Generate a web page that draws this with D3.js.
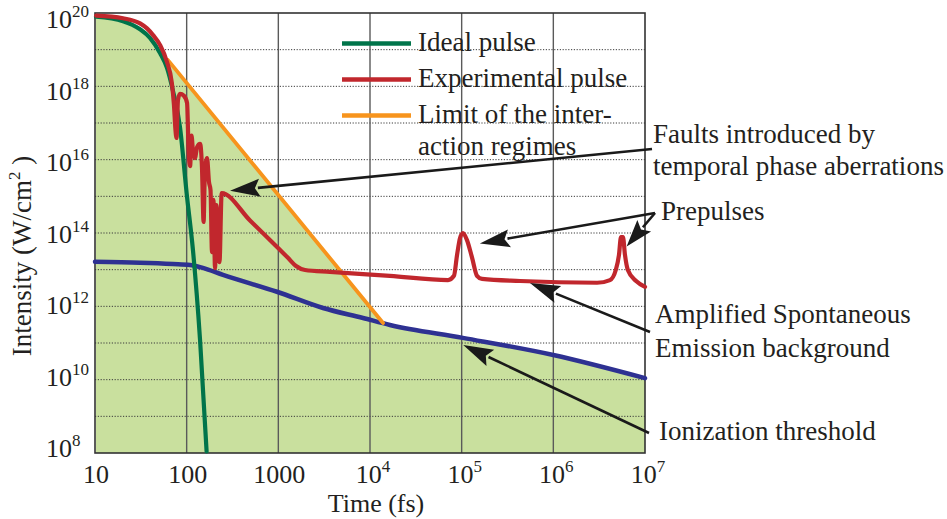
<!DOCTYPE html>
<html>
<head>
<meta charset="utf-8">
<script src="https://cdn.jsdelivr.net/npm/d3@7"></script>
<style>
  html, body { margin: 0; padding: 0; background: #fff; }
  svg { display: block; font-family: "Liberation Serif", "Times New Roman", serif; }
</style>
</head>
<body>
<svg id="chart" width="947" height="519"></svg>
<script>
// ---- data: time in fs, intensity in W/cm^2 ----
const idealPulse = [
  [10.25, 7.9e19], [20.2, 6.0e19], [31, 3.6e19], [39.8, 2.1e19], [51.2, 8.1e18],
  [61, 3.2e18], [71, 7.4e17], [84.5, 7.8e16], [100, 1.2e15], [117, 3.5e13],
  [140, 1.2e11], [165, 1.1e8]
];

const experimentalPulse = [
  [10.3, 8.5e19], [20.2, 7.2e19], [31, 5.2e19], [36.9, 3.8e19], [43, 2.5e19],
  [51.2, 1.35e19], [61, 4.6e18], [68.7, 1.3e18], [72.7, 3.1e17], [75.5, 6.4e16],
  [77.5, 3.9e16], [80.4, 4.3e17], [84.5, 6.2e17], [93.5, 5.5e17], [101, 3.5e17],
  [105, 1.8e16], [109, 6.7e15], [113, 4.5e16], [117, 1.8e16], [123, 1.1e16],
  [130, 2.2e16], [140, 2.7e16], [147, 5.9e15], [153, 2.0e14], [158, 4.6e15],
  [167, 1.1e16], [175, 2.5e15], [182, 1.5e15], [189, 3.0e13], [196, 8.0e14],
  [204, 1.1e13], [211, 5.8e14], [228, 1.6e13], [241, 1.23e15],
  [491, 2.2e14], [920, 4.7e13],
  [1274, 2.1e13], [1560, 1.26e13], [1955, 9.8e12], [3660, 8.7e12], [16500, 6.8e12],
  [71000, 5.2e12], [82400, 6.8e12], [89000, 2.5e13], [96000, 7.3e13], [103300, 1.0e14],
  [114000, 6.5e13], [130000, 2.1e13], [147000, 6.8e12], [167000, 5.6e12],
  [433000, 4.9e12], [3.0e6, 4.4e12], [4.15e6, 5.2e12], [4.8e6, 9.8e12],
  [5.2e6, 2.5e13], [5.47e6, 7.7e13], [5.75e6, 7.7e13], [6.05e6, 2.5e13],
  [6.5e6, 9.8e12], [8.0e6, 4.9e12], [1.0e7, 3.4e12]
];

const interactionLimit = [
  [62.5, 5.2e18], [13870, 3.5e11]
];

const ionizationThreshold = [
  [10, 1.65e13], [31, 1.55e13], [70.9, 1.43e13], [108.8, 1.35e13], [150, 1.12e13],
  [249, 7.2e12], [966, 2.5e12], [3070, 9.0e11], [8390, 4.8e11], [16500, 3.1e11],
  [1.03e5, 1.38e11], [1.0e6, 4.7e10], [1.0e7, 1.1e10]
];

const timeTicks = [10, 100, 1000, 1e4, 1e5, 1e6, 1e7];
const timeTickLabels = [["10", ""], ["100", ""], ["1000", ""], ["10", "4"], ["10", "5"], ["10", "6"], ["10", "7"]];
const intensityTicks = [1e8, 1e10, 1e12, 1e14, 1e16, 1e18, 1e20];
const intensityTickLabels = [["10", "8"], ["10", "10"], ["10", "12"], ["10", "14"], ["10", "16"], ["10", "18"], ["10", "20"]];
const timeGrid = [100, 1000, 1e4, 1e5, 1e6];
const intensityGrid = [1e9, 1e10, 1e11, 1e12, 1e13, 1e14, 1e15, 1e16, 1e17, 1e18, 1e19];

const legendNames = ["Ideal pulse", "Experimental pulse", "Limit of the inter-"];
const legendContinuation = "action regimes";

// ---- layout ----
const svg = d3.select("#chart");
const X0 = 95, X1 = 645, Y0 = 13, Y1 = 453;
const TEXT = "#231f20";
const colors = { ideal: "#00744a", exp: "#c1272d", limit: "#f7941d", ion: "#2e3192", fill: "#c9e09e" };

const x = d3.scaleLog().domain([10, 1e7]).range([X0, X1]);
const y = d3.scaleLog().domain([1e8, 1e20]).range([Y1, Y0]);
// baseline positions of the intensity tick labels
const yLabel = d3.scaleLog().domain([1e8, 1e20]).range([457, 28]);

const line = d3.line().x(d => x(d[0])).y(d => y(d[1])).curve(d3.curveMonotoneX);

// shaded region below the limit of the interaction regimes
const envelope = [
  ...idealPulse.filter(d => d[0] <= 51.2),
  ...interactionLimit,
  ...ionizationThreshold.filter(d => d[0] > interactionLimit[1][0])
];
const area = d3.area().x(d => x(d[0])).y0(y(1e8)).y1(d => y(d[1])).curve(d3.curveLinear);
svg.append("path").datum(envelope).attr("d", area).attr("fill", colors.fill);

// grid
svg.append("g").selectAll("line").data(intensityGrid).join("line")
  .attr("x1", X0).attr("x2", X1).attr("y1", d => y(d)).attr("y2", d => y(d))
  .attr("stroke", "#3a3a3a").attr("stroke-width", 1).attr("stroke-dasharray", "1.2,1.6");
svg.append("g").selectAll("line").data(timeGrid).join("line")
  .attr("x1", d => x(d)).attr("x2", d => x(d)).attr("y1", Y0).attr("y2", Y1)
  .attr("stroke", "#5a5a5a").attr("stroke-width", 1.4);

// frame
svg.append("rect").attr("x", X0).attr("y", Y0).attr("width", X1 - X0).attr("height", Y1 - Y0)
  .attr("fill", "none").attr("stroke", "#333").attr("stroke-width", 1.6);

// curves
function drawCurve(data, color, width) {
  svg.append("path").datum(data).attr("d", line)
    .attr("fill", "none").attr("stroke", color).attr("stroke-width", width)
    .attr("stroke-linejoin", "round").attr("stroke-linecap", "round");
}
drawCurve(ionizationThreshold, colors.ion, 4.5);
drawCurve(interactionLimit, colors.limit, 3.8);
drawCurve(idealPulse, colors.ideal, 4.2);
drawCurve(experimentalPulse, colors.exp, 4.2);

// axis tick labels
const xl = svg.append("g").attr("fill", TEXT).attr("font-size", 26).attr("text-anchor", "middle");
timeTicks.forEach((t, i) => {
  const txt = xl.append("text").attr("x", x(t) + (timeTickLabels[i][1] ? 3 : 1)).attr("y", 483);
  txt.append("tspan").text(timeTickLabels[i][0]);
  if (timeTickLabels[i][1]) txt.append("tspan").attr("font-size", 17).attr("dy", -11).text(timeTickLabels[i][1]);
});
const yl = svg.append("g").attr("fill", TEXT).attr("font-size", 26);
intensityTicks.forEach((v, i) => {
  const txt = yl.append("text").attr("x", 46).attr("y", yLabel(v));
  txt.append("tspan").text(intensityTickLabels[i][0]);
  txt.append("tspan").attr("font-size", 17).attr("dy", -11).text(intensityTickLabels[i][1]);
});

// axis titles
svg.append("text").attr("x", 376).attr("y", 512).attr("text-anchor", "middle")
  .attr("font-size", 26).attr("fill", TEXT).text("Time (fs)");
const yt = svg.append("text").attr("transform", "translate(31,256) rotate(-90)")
  .attr("text-anchor", "middle").attr("font-size", 27).attr("fill", TEXT);
yt.append("tspan").text("Intensity (W/cm");
yt.append("tspan").attr("font-size", 17).attr("dy", -11).text("2");
yt.append("tspan").attr("dy", 11).text(" )");

// legend
const legendColors = [colors.ideal, colors.exp, colors.limit];
const lg = svg.append("g");
legendNames.forEach((name, i) => {
  const ly = 43.5 + i * 36;
  lg.append("line").attr("x1", 342).attr("x2", 411).attr("y1", ly).attr("y2", ly)
    .attr("stroke", legendColors[i]).attr("stroke-width", 4.5);
  lg.append("text").attr("x", 418).attr("y", 51 + i * 36).attr("font-size", 27)
    .attr("fill", TEXT).text(name);
});
lg.append("text").attr("x", 418).attr("y", 155).attr("font-size", 27)
  .attr("fill", TEXT).text(legendContinuation);

// annotations with arrows pointing at features of the curves
const annotations = [
  { lines: ["Faults introduced by", "temporal phase aberrations"], tx: 653, ty: 143, dy: 32,
    tail: [652, 149], tips: [[297, 1.43e15]] },
  { lines: ["Prepulses"], tx: 661, ty: 220, dy: 0,
    tail: [655, 213], tips: [[1.58e5, 5.2e13], [6.3e6, 4.3e13]] },
  { lines: ["Amplified Spontaneous", "Emission background"], tx: 655, ty: 323, dy: 33.5,
    tail: [650, 332], tips: [[5.56e5, 4.3e12]] },
  { lines: ["Ionization threshold"], tx: 659, ty: 440, dy: 0,
    tail: [649, 433], tips: [[1.04e5, 8.8e10]] }
];

const ag = svg.append("g");
annotations.forEach(a => {
  a.lines.forEach((s, i) => {
    ag.append("text").attr("x", a.tx).attr("y", a.ty + i * a.dy).attr("font-size", 27)
      .attr("fill", TEXT).text(s);
  });
  a.tips.forEach(tp => {
    const px = x(tp[0]), py = y(tp[1]);
    const [sx, sy] = a.tail;
    const dx = px - sx, dy = py - sy, len = Math.hypot(dx, dy);
    const ux = dx / len, uy = dy / len;
    const headLen = Math.min(30, len * 0.62), headW = 9;
    const bx = px - ux * headLen, by = py - uy * headLen;
    ag.append("line").attr("x1", sx).attr("y1", sy).attr("x2", bx + ux * 2).attr("y2", by + uy * 2)
      .attr("stroke", "#1a1a1a").attr("stroke-width", 2.6);
    ag.append("path")
      .attr("d", `M${px},${py}L${bx - uy * headW},${by + ux * headW}L${bx + ux * 5},${by + uy * 5}L${bx + uy * headW},${by - ux * headW}Z`)
      .attr("fill", "#1a1a1a");
  });
});
</script>
</body>
</html>
